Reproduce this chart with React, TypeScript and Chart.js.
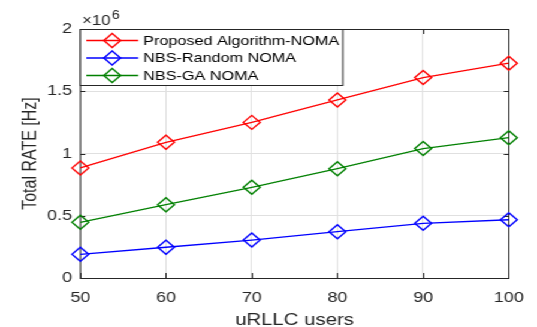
import { useEffect, useRef } from "react";
import { Chart, registerables } from "chart.js";

Chart.register(...registerables);

// Number of uRLLC users on the x axis
const users = [50, 60, 70, 80, 90, 100];

// Total rate per scheme [Hz]
const proposedNoma = [884000, 1090000, 1250000, 1430000, 1610000, 1725000];
const nbsRandomNoma = [190000, 247000, 305000, 372000, 439000, 468000];
const nbsGaNoma = [447000, 589000, 728000, 878000, 1040000, 1127000];

const seriesNames = ["Proposed Algorithm-NOMA", "NBS-Random NOMA", "NBS-GA NOMA"];
const seriesColors = ["#ff0000", "#0000ff", "#008000"];

const xTickValues = [50, 60, 70, 80, 90, 100];
const yTickValues = [0, 500000, 1000000, 1500000, 2000000];
const yExponent = 6;

const FONT = '"Liberation Sans", Arial, Helvetica, sans-serif';
const TEXT = "#262626";
const CANVAS_W = 448;
const CANVAS_H = 327;
const STRETCH = 537 / CANVAS_W;
const MARKER_R = 7;

function drawDiamond(ctx: CanvasRenderingContext2D, x: number, y: number, r: number, color: string) {
  ctx.beginPath();
  ctx.moveTo(x - r, y);
  ctx.lineTo(x, y - r);
  ctx.lineTo(x + r, y);
  ctx.lineTo(x, y + r);
  ctx.closePath();
  ctx.strokeStyle = color;
  ctx.lineWidth = 1.4;
  ctx.stroke();
}

// Axes box with inward tick marks on all four sides
const framePlugin = {
  id: "axesFrame",
  beforeDatasetsDraw(chart: any) {
    const { ctx, chartArea } = chart;
    const { left, right, top, bottom } = chartArea;
    const xs = chart.scales.x;
    const ys = chart.scales.y;
    ctx.save();
    ctx.strokeStyle = TEXT;
    ctx.lineWidth = 1;
    ctx.beginPath();
    for (const v of xTickValues) {
      const px = Math.round(xs.getPixelForValue(v)) + 0.5;
      ctx.moveTo(px, bottom);
      ctx.lineTo(px, bottom - 5);
      ctx.moveTo(px, top);
      ctx.lineTo(px, top + 5);
    }
    for (const v of yTickValues) {
      const py = Math.round(ys.getPixelForValue(v)) + 0.5;
      ctx.moveTo(left, py);
      ctx.lineTo(left + 5 / STRETCH, py);
      ctx.moveTo(right, py);
      ctx.lineTo(right - 5 / STRETCH, py);
    }
    ctx.stroke();
    ctx.strokeRect(left, Math.round(top) + 0.5, right - left, Math.round(bottom) - Math.round(top));
    ctx.restore();
  },
  afterDatasetsDraw(chart: any) {
    const { ctx, chartArea } = chart;
    const { left, top } = chartArea;
    ctx.save();

    // legend box
    const lw = 219;
    const lh = 56;
    ctx.fillStyle = "#ffffff";
    ctx.fillRect(left, top, lw, lh);
    ctx.strokeStyle = TEXT;
    ctx.lineWidth = 1;
    ctx.strokeRect(left, Math.round(top) + 0.5, lw, lh);
    const rows = [11.5, 29, 46.5];
    ctx.font = `13.5px ${FONT}`;
    ctx.textBaseline = "middle";
    ctx.textAlign = "left";
    seriesNames.forEach((name, i) => {
      const y = top + rows[i];
      ctx.strokeStyle = seriesColors[i];
      ctx.lineWidth = 1.3;
      ctx.beginPath();
      ctx.moveTo(left + 5, y);
      ctx.lineTo(left + 48.3, y);
      ctx.stroke();
      drawDiamond(ctx, left + 26.6, y, MARKER_R, seriesColors[i]);
      ctx.fillStyle = "#000000";
      ctx.fillText(name, left + 52.5, y + 0.5);
    });

    // exponent label above the y axis
    ctx.fillStyle = TEXT;
    ctx.textBaseline = "alphabetic";
    ctx.font = `14px ${FONT}`;
    const base = "\u00d710";
    ctx.fillText(base, left + 1.5, top - 4);
    const bw = ctx.measureText(base).width;
    ctx.font = `12px ${FONT}`;
    ctx.fillText(String(yExponent), left + 1.5 + bw + 1, top - 10);
    ctx.restore();
  },
};

export default function App() {
  const canvasRef = useRef<HTMLCanvasElement | null>(null);

  useEffect(() => {
    const canvas = canvasRef.current;
    if (!canvas) return;
    const series = [proposedNoma, nbsRandomNoma, nbsGaNoma];
    const chart = new Chart(canvas, {
      type: "line",
      data: {
        datasets: series.map((vals, i) => ({
          label: seriesNames[i],
          data: users.map((u, j) => ({ x: u, y: vals[j] })),
          borderColor: seriesColors[i],
          backgroundColor: "rgba(0,0,0,0)",
          borderWidth: 1.3,
          pointStyle: "rectRot",
          pointRadius: MARKER_R,
          pointBorderWidth: 1.4,
          pointBorderColor: seriesColors[i],
          pointBackgroundColor: "rgba(0,0,0,0)",
          tension: 0,
          fill: false,
          clip: false as any,
        })),
      },
      options: {
        animation: false,
        responsive: false,
        devicePixelRatio: 1,
        layout: { padding: { left: 0, top: 29, right: 21, bottom: 0 } },
        plugins: {
          legend: { display: false },
          tooltip: { enabled: false },
        },
        scales: {
          x: {
            type: "linear",
            min: 50,
            max: 100,
            afterBuildTicks: (scale: any) => {
              scale.ticks = xTickValues.map((v) => ({ value: v }));
            },
            afterFit: (scale: any) => {
              scale.height = 49;
            },
            ticks: {
              color: TEXT,
              font: { family: FONT, size: 15 },
              padding: 11,
              maxRotation: 0,
              callback: (v: any) => String(v),
            },
            grid: { color: "#e0e0e0", drawTicks: false, lineWidth: 1 },
            border: { display: false },
            title: {
              display: true,
              text: "uRLLC users",
              color: TEXT,
              font: { family: FONT, size: 17 },
              padding: { top: 0, bottom: -4 },
            },
          },
          y: {
            type: "linear",
            min: 0,
            max: 2000000,
            afterBuildTicks: (scale: any) => {
              scale.ticks = yTickValues.map((v) => ({ value: v }));
            },
            afterFit: (scale: any) => {
              scale.width = 67;
            },
            ticks: {
              color: TEXT,
              font: { family: FONT, size: 15 },
              padding: 7,
              callback: (v: any) => String(Number(v) / Math.pow(10, yExponent)),
            },
            grid: { color: "#e0e0e0", drawTicks: false, lineWidth: 1 },
            border: { display: false },
            title: {
              display: true,
              text: "Total RATE [Hz]",
              color: TEXT,
              font: { family: FONT, size: 16 },
              padding: { top: 15.5, bottom: 0 },
            },
          },
        },
      },
      plugins: [framePlugin],
    });
    return () => chart.destroy();
  }, []);

  return (
    <div
      style={{
        position: "fixed",
        left: 0,
        top: 0,
        width: CANVAS_W,
        height: CANVAS_H,
        background: "#ffffff",
        transform: `scaleX(${STRETCH})`,
        transformOrigin: "0 0",
      }}
    >
      <canvas ref={canvasRef} width={CANVAS_W} height={CANVAS_H} />
    </div>
  );
}
